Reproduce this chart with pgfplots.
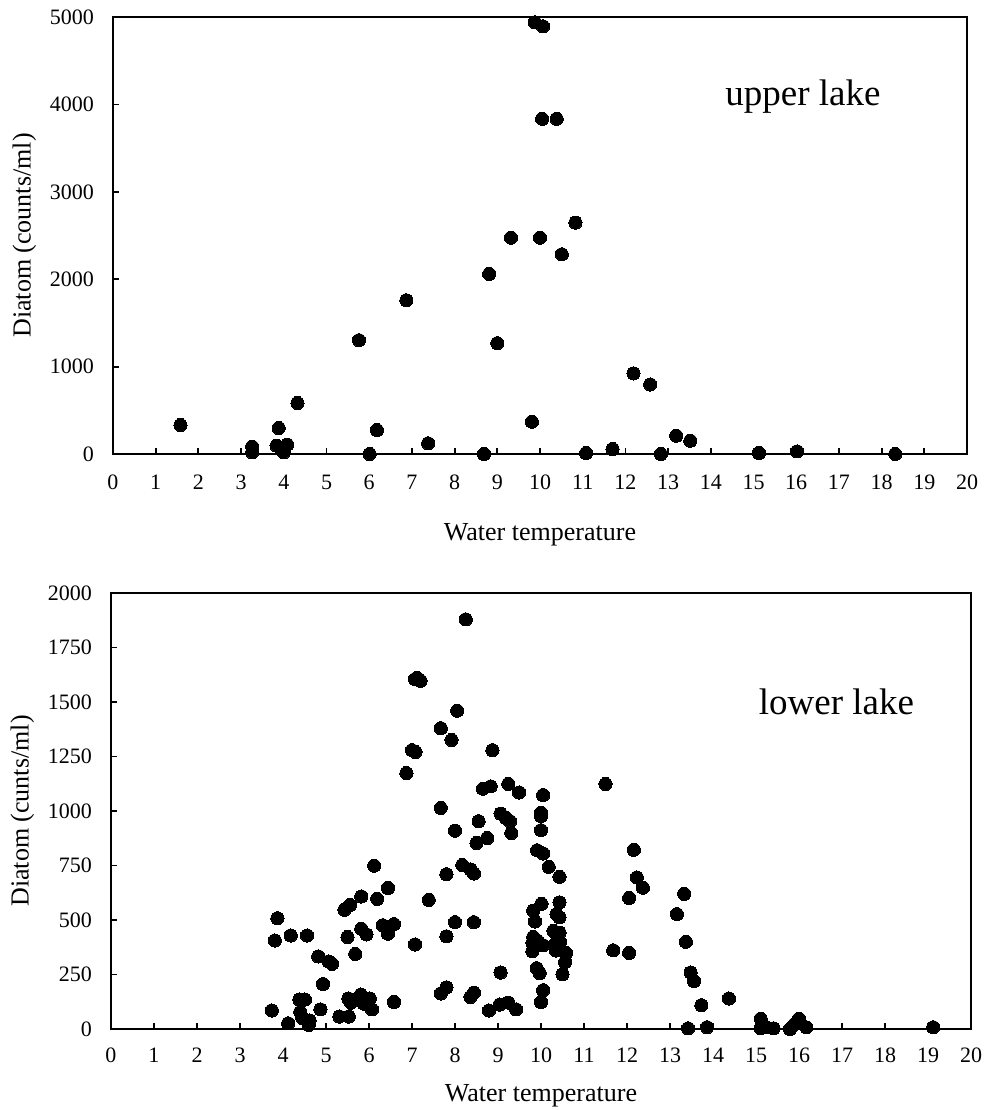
\documentclass[border=0pt]{standalone}
\usepackage{fontspec}
\setmainfont{Liberation Serif}
\usepackage{pgfplots}
\pgfplotsset{compat=1.18}

\pgfplotsset{
  diatom/.style={
    scale only axis,
    xmin=0, xmax=20,
    xtick={0,1,...,20},
    tick pos=left,
    tick align=inside,
    major tick length=3pt,
    axis line style={line width=1pt},
    every tick/.style={black, line width=0.9pt},
    ticklabel style={font=\fontsize{11}{13}\selectfont},
    /pgf/number format/assume math mode=true,
    /pgf/number format/1000 sep={},
    scaled ticks=false,
    label style={font=\fontsize{13}{15}\selectfont},
    yticklabel style={xshift=-6pt},
    clip=false,
  },
  dots/.style={only marks, mark=*, mark size=3.3pt, black,
    mark options={fill=black, draw=black, line width=0pt}},
}

\begin{document}
\begin{tikzpicture}
\useasboundingbox (0,0) rectangle (493pt,-555pt);

\begin{axis}[diatom,
  at={(56.5pt,-227pt)}, anchor=south west,
  width=427pt, height=218.5pt,
  ymin=0, ymax=5000, ytick={0,1000,...,5000},
  xticklabel style={yshift=-7pt},
  xlabel={Water temperature},
  xlabel style={yshift=-10pt},
  ylabel={Diatom (counts/ml)},
]
\addplot[dots] coordinates {
(1.58,331) (3.26,84) (3.26,19) (3.83,95) (3.88,297) (4.08,107) (4.00,19)
(4.32,583) (5.76,1302) (6.01,0) (6.18,274) (6.87,1759) (7.38,122) (8.69,0)
(8.81,2060) (9.00,1268) (9.32,2475) (9.81,369) (10.00,2475) (10.05,3835)
(9.88,4939) (10.07,4893) (10.39,3835) (10.51,2285) (10.83,2647) (11.08,11)
(11.70,57) (12.19,922) (12.58,796) (12.83,0) (13.19,209) (13.52,152)
(15.13,11) (16.02,30) (18.32,0)
};
\node[anchor=base, font=\fontsize{18.5}{22}\selectfont] at (axis cs:16.16,3982) {upper lake};
\end{axis}

\begin{axis}[diatom,
  at={(55.5pt,-514.5pt)}, anchor=south west,
  width=430pt, height=218pt,
  ymin=0, ymax=2000, ytick={0,250,...,2000},
  xticklabel style={yshift=-6pt},
  xlabel={Water temperature},
  xlabel style={yshift=-4pt},
  ylabel={Diatom (cunts/ml)},
]
\addplot[dots] coordinates {
(3.74,85) (3.87,508) (3.81,406) (4.18,429) (4.56,429) (4.12,26) (4.38,135)
(4.51,135) (4.40,78) (4.45,50) (4.62,39) (4.60,19) (4.82,333) (5.06,310)
(5.14,299) (4.93,206) (4.87,90) (5.31,57) (5.53,57) (5.43,547) (5.56,569)
(5.50,422) (5.52,140) (5.58,121) (5.68,344) (5.82,608) (5.82,460) (5.94,434)
(5.81,158) (5.88,116) (6.02,140) (6.07,90) (6.12,749) (6.19,597) (6.44,647)
(6.32,476) (6.44,437) (6.58,481) (6.58,124) (6.87,1174) (7.00,1279)
(7.08,1271) (7.07,1605) (7.20,1597) (7.12,1610) (7.07,388) (7.39,592)
(8.25,1879) (8.05,1460) (7.67,1380) (7.92,1326) (8.87,1279) (8.65,1102)
(8.83,1113) (9.24,1124) (9.49,1085) (10.05,1073) (7.67,1014) (9.06,988)
(9.18,969) (9.28,953) (10.00,992) (10.00,977) (8.55,953) (8.00,910)
(9.31,899) (10.00,912) (8.50,853) (8.75,876) (9.91,820) (10.05,805)
(8.17,752) (8.36,732) (8.44,713) (7.80,710) (10.18,744) (10.43,698)
(9.82,543) (10.01,574) (10.43,581) (10.36,527) (10.43,512) (8.00,490)
(8.44,490) (9.86,493) (7.80,425) (10.29,450) (10.43,442) (9.82,422)
(9.91,406) (10.05,384) (9.80,395) (9.80,357) (10.35,395) (10.44,400)
(10.35,360) (10.58,349) (10.56,307) (10.50,251) (11.68,361) (9.06,259)
(9.90,279) (9.97,256) (10.05,178) (10.00,124) (7.67,163) (7.80,191)
(8.36,147) (8.44,167) (8.79,85) (9.04,112) (9.24,121) (9.42,90)
(11.50,1124) (12.16,822) (12.23,695) (12.37,648) (12.05,601) (12.05,349)
(13.33,620) (13.16,527) (13.37,400) (13.48,259) (13.56,220) (13.73,109)
(14.37,140) (13.42,3) (13.86,8) (15.11,47) (15.11,3) (15.24,8) (15.41,3)
(15.79,0) (15.90,23) (16.00,47) (16.17,8) (19.12,8)
};
\node[anchor=base, font=\fontsize{18.5}{22}\selectfont] at (axis cs:16.87,1445) {lower lake};
\end{axis}
\end{tikzpicture}
\end{document}
